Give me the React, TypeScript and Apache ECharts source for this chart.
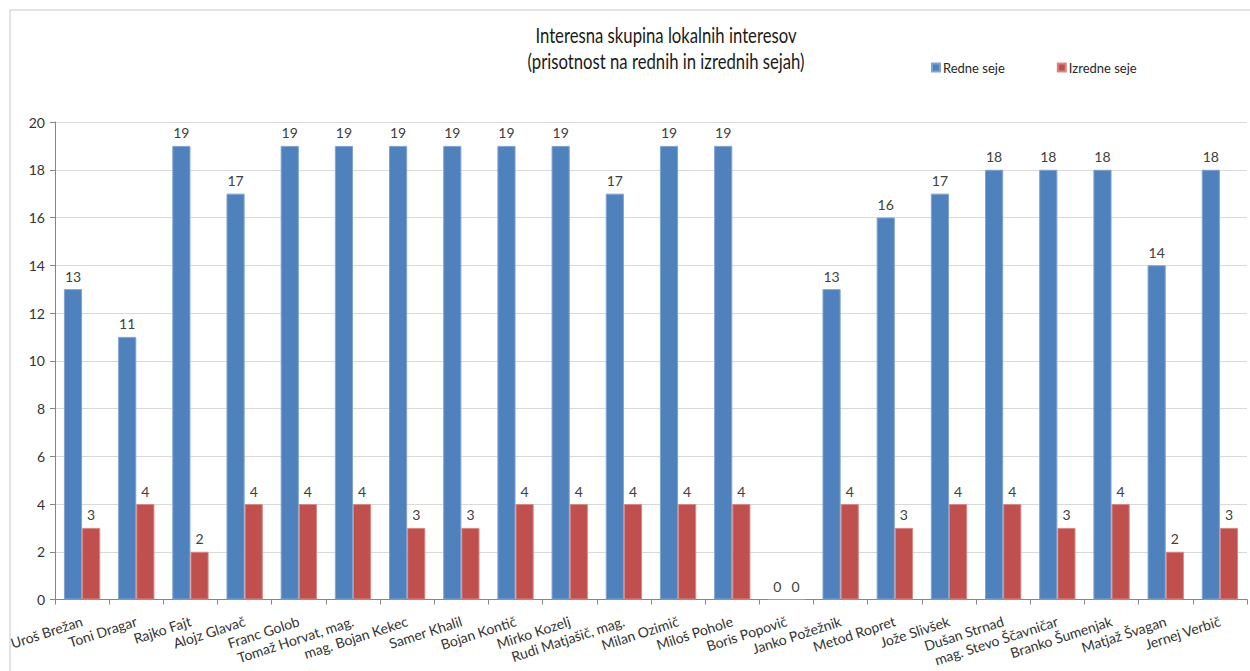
import React, { useEffect, useRef } from "react";
import * as echarts from "echarts";

const categories = [
  "Uroš Brežan", "Toni Dragar", "Rajko Fajt", "Alojz Glavač", "Franc Golob",
  "Tomaž Horvat, mag.", "mag. Bojan Kekec", "Samer Khalil", "Bojan Kontič",
  "Mirko Kozelj", "Rudi Matjašič, mag.", "Milan Ozimič", "Miloš Pohole",
  "Boris Popovič", "Janko Požežnik", "Metod Ropret", "Jože Slivšek",
  "Dušan Strnad", "mag. Stevo Ščavničar", "Branko Šumenjak", "Matjaž Švagan",
  "Jernej Verbič",
];
const redneSeje = [13, 11, 19, 17, 19, 19, 19, 19, 19, 19, 17, 19, 19, 0, 13, 16, 17, 18, 18, 18, 14, 18];
const izredneSeje = [3, 4, 2, 4, 4, 4, 3, 3, 4, 4, 4, 4, 4, 0, 4, 3, 4, 4, 3, 4, 2, 3];
const seriesNames = ["Redne seje", "Izredne seje"];
const titleLines = ["Interesna skupina lokalnih interesov", "(prisotnost na rednih in izrednih sejah)"];

const FONT = "Lato, 'Open Sans', sans-serif";

export default function App() {
  const ref = useRef<HTMLDivElement>(null);
  useEffect(() => {
    if (!ref.current) return;
    const chart = echarts.init(ref.current, undefined, { renderer: "svg" });
    const label = {
      show: true,
      position: "top",
      distance: 6,
      color: "#404040",
      fontSize: 14,
      fontFamily: FONT,
    };
    chart.setOption({
      animation: false,
      backgroundColor: "#ffffff",
      textStyle: { fontFamily: FONT },
      graphic: [
        {
          type: "rect",
          shape: { x: 10, y: 10, width: 1300, height: 700 },
          style: { fill: "none", stroke: "#c8c8c8", lineWidth: 1 },
          z: -1,
        },
        {
          type: "text",
          x: 666,
          y: 35,
          scaleX: 0.76,
          style: {
            text: titleLines[0],
            font: "22px " + FONT,
            fill: "#1a1a1a",
            textAlign: "center",
            textVerticalAlign: "middle",
          },
        },
        {
          type: "text",
          x: 666,
          y: 61,
          scaleX: 0.76,
          style: {
            text: titleLines[1],
            font: "22px " + FONT,
            fill: "#1a1a1a",
            textAlign: "center",
            textVerticalAlign: "middle",
          },
        },
      ],
      legend: {
        data: seriesNames,
        left: 926,
        top: 56,
        itemWidth: 8,
        itemHeight: 8,
        itemGap: 52,
        icon: "rect",
        textStyle: { fontSize: 13, color: "#262626", fontFamily: FONT, padding: [0, 0, 0, -2] },
      },
      grid: { left: 55, right: 3, top: 122, bottom: 71.5, containLabel: false },
      xAxis: {
        type: "category",
        data: categories,
        axisLine: { lineStyle: { color: "#868686" } },
        axisTick: { show: true, length: 5, lineStyle: { color: "#868686" } },
        axisLabel: {
          rotate: 18,
          interval: 0,
          margin: 21,
          fontSize: 14,
          color: "#333333",
          fontFamily: FONT,
        },
      },
      yAxis: {
        type: "value",
        min: 0,
        max: 20,
        interval: 2,
        axisLine: { show: true, lineStyle: { color: "#868686" } },
        axisTick: { show: true, length: 5, lineStyle: { color: "#868686" } },
        splitLine: { lineStyle: { color: "#d9d9d9" } },
        axisLabel: { fontSize: 14, color: "#333333", fontFamily: FONT, margin: 10 },
      },
      series: [
        {
          name: seriesNames[0],
          type: "bar",
          data: redneSeje,
          barGap: "0%",
          barCategoryGap: "33%",
          itemStyle: { color: "#4F81BD", borderColor: "#7FA3CF", borderWidth: 1 },
          label,
        },
        {
          name: seriesNames[1],
          type: "bar",
          data: izredneSeje,
          itemStyle: { color: "#C0504D", borderColor: "#D68885", borderWidth: 1 },
          label,
        },
      ],
    });
    return () => chart.dispose();
  }, []);
  return (
    <div
      ref={ref}
      style={{ position: "fixed", left: 0, top: 0, width: 1250, height: 671 }}
    />
  );
}
